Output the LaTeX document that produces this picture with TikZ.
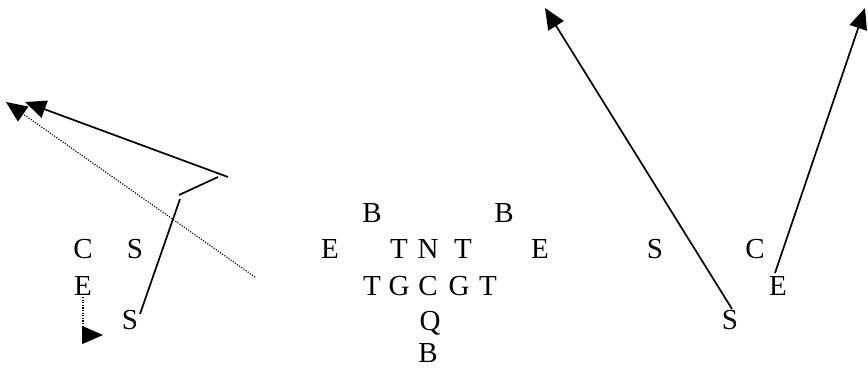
\documentclass[tikz,border=0pt]{standalone}
\usepackage{fontspec}
\setmainfont{Liberation Serif}
\usetikzlibrary{arrows.meta}
\begin{document}
\begin{tikzpicture}[x=1pt,y=-1pt,
  pl/.style={inner sep=0pt,text height=20pt,text depth=0pt,font=\fontsize{29}{29}\selectfont},
  route/.style={line width=1.7pt},
  dotroute/.style={line width=1.2pt,dash pattern=on 1.1pt off 1.5pt},
  tip/.style={-{Triangle[length=21pt,width=18pt]}}]
\useasboundingbox (0,0) rectangle (868,370);
% top row
\node[pl] (b1) at (372,212) {B};
\node[pl] (b2) at (504,212) {B};
% row 2
\node[pl] (lc) at (83,248) {C};
\node[pl] (ls) at (135,248) {S};
\node[pl] (e1) at (330,248) {E};
\node[pl] (t1) at (399,248) {T};
\node[pl] (n1) at (428,248) {N};
\node[pl] (t2) at (463,248) {T};
\node[pl] (e2) at (540,248) {E};
\node[pl] (rs) at (655,248) {S};
\node[pl] (rc) at (755,248) {C};
% row 3
\node[pl] (le) at (83,285) {E};
\node[pl] (t3) at (372,285) {T};
\node[pl] (g1) at (399,285) {G};
\node[pl] (c1) at (428,285) {C};
\node[pl] (g2) at (459,285) {G};
\node[pl] (t4) at (488,285) {T};
\node[pl] (re) at (778,285) {E};
% row 4
\node[pl] (lss) at (130,319) {S};
\node[pl] (q) at (430,320) {Q};
\node[pl] (rss) at (730,319) {S};
% row 5
\node[pl] (b3) at (428,352) {B};
% route points
\coordinate (p1) at (140,314);
\coordinate (p2) at (180,199);
\coordinate (p3) at (179,195);
\coordinate (p4) at (218,177);
\coordinate (p5) at (228,177);
\coordinate (p6) at (25,102);
\coordinate (d1) at (255,277);
\coordinate (d2) at (6,102);
\coordinate (e0) at (83,297);
\coordinate (ecorner) at (83,335);
\coordinate (etip) at (103,335);
\coordinate (r1) at (732,309);
\coordinate (r2) at (545,8);
\coordinate (r3) at (775,273);
\coordinate (r4) at (865,8);
% left routes
\draw[route] (p1) -- (p2);
\draw[route] (p3) -- (p4);
\draw[route,tip] (p5) -- (p6);
\draw[dotroute,tip] (d1) -- (d2);
\draw[dotroute,tip] (e0) -- (ecorner) -- (etip);
% right routes
\draw[route,tip] (r1) -- (r2);
\draw[route,tip] (r3) -- (r4);
\end{tikzpicture}
\end{document}
